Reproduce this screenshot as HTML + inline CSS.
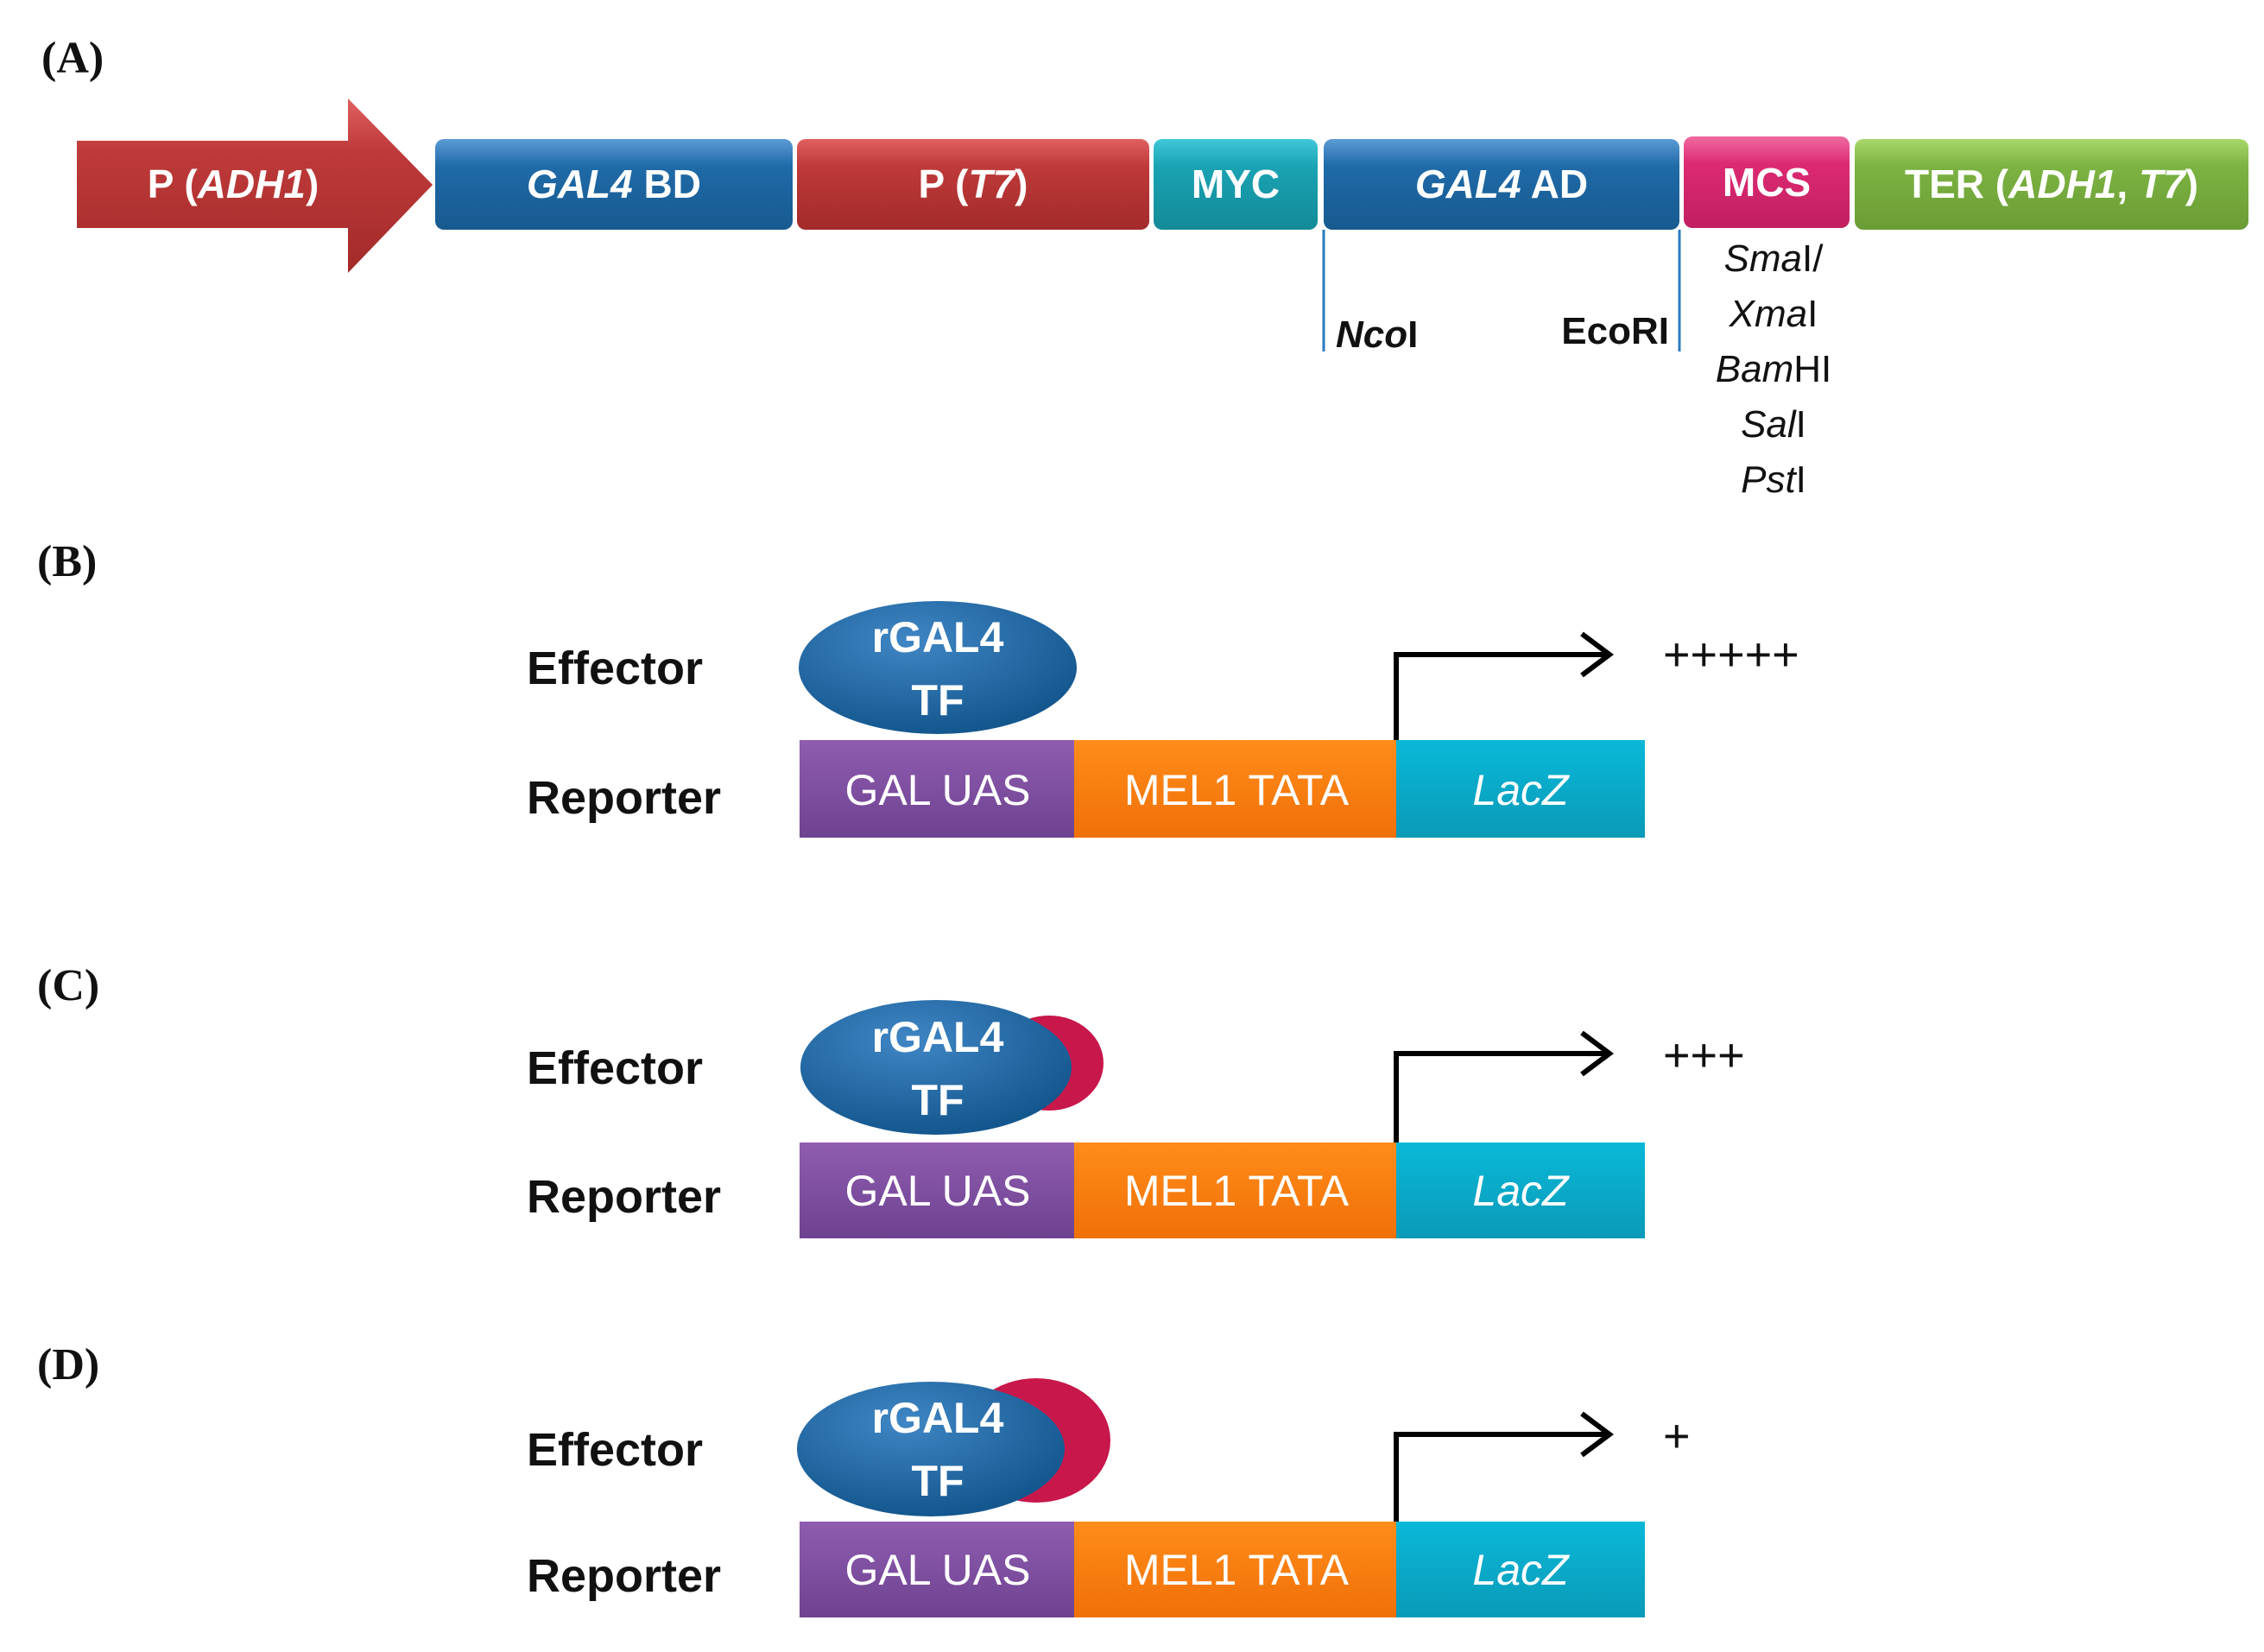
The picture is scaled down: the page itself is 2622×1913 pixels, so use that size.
<!DOCTYPE html>
<html><head><meta charset="utf-8"><style>html,body{margin:0;padding:0;background:#fff}svg{display:block}</style></head>
<body>
<svg width="2622" height="1913" viewBox="0 0 2622 1913" xmlns="http://www.w3.org/2000/svg" font-family="Liberation Sans, sans-serif">
<defs>
<linearGradient id="gr" x1="0" y1="0" x2="0" y2="1"><stop offset="0" stop-color="#e06060"/><stop offset=".3" stop-color="#bf3a3a"/><stop offset="1" stop-color="#a32a2a"/></linearGradient>
<linearGradient id="gb" x1="0" y1="0" x2="0" y2="1"><stop offset="0" stop-color="#5b9bd5"/><stop offset=".3" stop-color="#1f6aa8"/><stop offset="1" stop-color="#175a8f"/></linearGradient>
<linearGradient id="gc" x1="0" y1="0" x2="0" y2="1"><stop offset="0" stop-color="#40c8d8"/><stop offset=".3" stop-color="#1aa3b3"/><stop offset="1" stop-color="#138a98"/></linearGradient>
<linearGradient id="gm" x1="0" y1="0" x2="0" y2="1"><stop offset="0" stop-color="#f06aa0"/><stop offset=".3" stop-color="#dc2a72"/><stop offset="1" stop-color="#c21e60"/></linearGradient>
<linearGradient id="gg" x1="0" y1="0" x2="0" y2="1"><stop offset="0" stop-color="#a8d86a"/><stop offset=".3" stop-color="#7cb342"/><stop offset="1" stop-color="#6a9c34"/></linearGradient>
<linearGradient id="gp" x1="0" y1="0" x2="0" y2="1"><stop offset="0" stop-color="#8f5cb0"/><stop offset="1" stop-color="#6e4290"/></linearGradient>
<linearGradient id="go" x1="0" y1="0" x2="0" y2="1"><stop offset="0" stop-color="#ff8c1a"/><stop offset="1" stop-color="#f07008"/></linearGradient>
<linearGradient id="gl" x1="0" y1="0" x2="0" y2="1"><stop offset="0" stop-color="#0ab8d8"/><stop offset="1" stop-color="#0a9ab8"/></linearGradient>
<radialGradient id="ge" cx=".4" cy=".3" r=".7"><stop offset="0" stop-color="#3f86c4"/><stop offset="1" stop-color="#14578f"/></radialGradient>
</defs>
<g font-family="Liberation Serif, serif" font-weight="bold" font-size="52" fill="#111">
<text x="48" y="84">(A)</text><text x="43" y="667">(B)</text><text x="43" y="1158">(C)</text><text x="43" y="1597">(D)</text>
</g>
<!-- A -->
<polygon points="89,163 403,163 403,114 501,214 403,316 403,264 89,264" fill="url(#gr)"/>
<rect x="504" y="161" width="414" height="105" rx="10" fill="url(#gb)"/>
<rect x="923" y="161" width="408" height="105" rx="10" fill="url(#gr)"/>
<rect x="1336" y="161" width="190" height="105" rx="10" fill="url(#gc)"/>
<rect x="1533" y="161" width="412" height="105" rx="10" fill="url(#gb)"/>
<rect x="1950" y="158" width="192" height="106" rx="10" fill="url(#gm)"/>
<rect x="2148" y="161" width="456" height="105" rx="10" fill="url(#gg)"/>
<g fill="#fff" font-weight="bold" font-size="46" text-anchor="middle">
<text x="270" y="229">P (<tspan font-style="italic">ADH1</tspan>)</text>
<text x="711" y="229"><tspan font-style="italic">GAL4</tspan> BD</text>
<text x="1127" y="229">P (<tspan font-style="italic">T7</tspan>)</text>
<text x="1431" y="229">MYC</text>
<text x="1739" y="229"><tspan font-style="italic">GAL4</tspan> AD</text>
<text x="2046" y="227">MCS</text>
<text x="2376" y="229">TER (<tspan font-style="italic">ADH1</tspan>, <tspan font-style="italic">T7</tspan>)</text>
</g>
<line x1="1533" y1="266" x2="1533" y2="407" stroke="#2b7bc0" stroke-width="3"/>
<line x1="1945" y1="266" x2="1945" y2="407" stroke="#2b7bc0" stroke-width="3"/>
<g fill="#111" font-size="44">
<text x="1547" y="402" font-weight="bold"><tspan font-style="italic">Nco</tspan>I</text>
<text x="1933" y="398" font-weight="bold" text-anchor="end">EcoRI</text>
<g text-anchor="middle">
<text x="2054" y="314"><tspan font-style="italic">Sma</tspan>I/</text>
<text x="2054" y="378"><tspan font-style="italic">Xma</tspan>I</text>
<text x="2054" y="442"><tspan font-style="italic">Bam</tspan>HI</text>
<text x="2054" y="506"><tspan font-style="italic">Sal</tspan>I</text>
<text x="2054" y="570"><tspan font-style="italic">Pst</tspan>I</text>
</g></g>
<!-- panels -->
<g id="p1">
<text x="610" y="792" font-size="54" font-weight="bold" fill="#111">Effector</text>
<text x="610" y="942" font-size="54" font-weight="bold" fill="#111">Reporter</text>
<ellipse cx="1086" cy="773" rx="161" ry="77" fill="url(#ge)"/>
<rect x="926" y="857" width="318" height="113" fill="url(#gp)"/>
<rect x="1244" y="857" width="373" height="113" fill="url(#go)"/>
<rect x="1617" y="857" width="288" height="113" fill="url(#gl)"/>
<g fill="#fff" font-size="50" text-anchor="middle">
<text x="1086" y="932">GAL  UAS</text><text x="1432" y="932">MEL1 TATA</text><text x="1761" y="932" font-style="italic">LacZ</text>
<text x="1086" y="755" font-weight="bold">rGAL4</text><text x="1086" y="828" font-weight="bold">TF</text>
</g>
<polyline points="1617,857 1617,758 1860,758" fill="none" stroke="#000" stroke-width="6"/>
<polyline points="1832,734 1864,758 1832,782" fill="none" stroke="#000" stroke-width="6"/>
<text x="1926" y="776" font-size="54" fill="#111">+++++</text>
</g>
<g>
<text x="610" y="1255" font-size="54" font-weight="bold" fill="#111">Effector</text>
<text x="610" y="1404" font-size="54" font-weight="bold" fill="#111">Reporter</text>
<ellipse cx="1215" cy="1231" rx="63" ry="55" fill="#c8174a"/>
<ellipse cx="1084" cy="1236" rx="157" ry="78" fill="url(#ge)"/>
<rect x="926" y="1323" width="318" height="111" fill="url(#gp)"/>
<rect x="1244" y="1323" width="373" height="111" fill="url(#go)"/>
<rect x="1617" y="1323" width="288" height="111" fill="url(#gl)"/>
<g fill="#fff" font-size="50" text-anchor="middle">
<text x="1086" y="1396">GAL  UAS</text><text x="1432" y="1396">MEL1 TATA</text><text x="1761" y="1396" font-style="italic">LacZ</text>
<text x="1086" y="1218" font-weight="bold">rGAL4</text><text x="1086" y="1291" font-weight="bold">TF</text>
</g>
<polyline points="1617,1323 1617,1220 1860,1220" fill="none" stroke="#000" stroke-width="6"/>
<polyline points="1832,1196 1864,1220 1832,1244" fill="none" stroke="#000" stroke-width="6"/>
<text x="1926" y="1240" font-size="54" fill="#111">+++</text>
</g>
<g>
<text x="610" y="1697" font-size="54" font-weight="bold" fill="#111">Effector</text>
<text x="610" y="1843" font-size="54" font-weight="bold" fill="#111">Reporter</text>
<ellipse cx="1200" cy="1668" rx="86" ry="72" fill="#c8174a"/>
<ellipse cx="1078" cy="1678" rx="155" ry="78" fill="url(#ge)"/>
<rect x="926" y="1762" width="318" height="111" fill="url(#gp)"/>
<rect x="1244" y="1762" width="373" height="111" fill="url(#go)"/>
<rect x="1617" y="1762" width="288" height="111" fill="url(#gl)"/>
<g fill="#fff" font-size="50" text-anchor="middle">
<text x="1086" y="1835">GAL  UAS</text><text x="1432" y="1835">MEL1 TATA</text><text x="1761" y="1835" font-style="italic">LacZ</text>
<text x="1086" y="1659" font-weight="bold">rGAL4</text><text x="1086" y="1732" font-weight="bold">TF</text>
</g>
<polyline points="1617,1762 1617,1661 1860,1661" fill="none" stroke="#000" stroke-width="6"/>
<polyline points="1832,1637 1864,1661 1832,1685" fill="none" stroke="#000" stroke-width="6"/>
<text x="1926" y="1681" font-size="54" fill="#111">+</text>
</g>
</svg>
</body></html>
